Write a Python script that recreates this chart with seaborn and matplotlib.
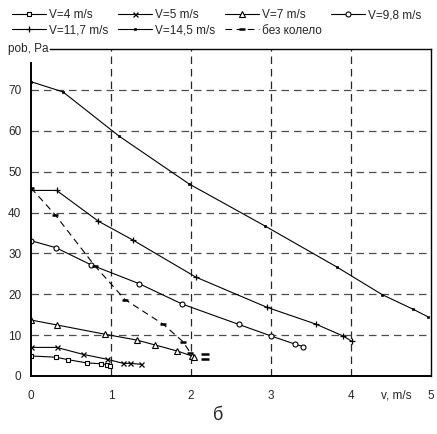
import matplotlib
matplotlib.use("Agg")
import matplotlib.pyplot as plt
import seaborn as sns
import pandas as pd

# ---- data ----
v4_x = [0.0, 0.31, 0.46, 0.70, 0.87, 0.95, 0.99]
v4_y = [4.9, 4.6, 4.0, 3.2, 3.0, 2.8, 2.35]

v5_x = [0.0, 0.32, 0.65, 0.95, 1.15, 1.24, 1.38]
v5_y = [7.0, 7.0, 5.3, 4.1, 3.1, 3.1, 2.85]

v7_x = [0.0, 0.32, 0.93, 1.32, 1.55, 1.83, 2.01, 2.04]
v7_y = [13.7, 12.5, 10.2, 8.8, 7.6, 6.1, 4.9, 4.7]

v98_x = [0.0, 0.31, 0.75, 1.35, 1.89, 2.60, 3.00, 3.30, 3.40]
v98_y = [33.1, 31.4, 27.2, 22.6, 17.6, 12.6, 9.8, 7.8, 7.2]

v117_x = [0.0, 0.32, 0.84, 1.27, 2.06, 2.95, 3.56, 3.90, 4.01]
v117_y = [45.4, 45.4, 37.9, 33.3, 24.2, 16.8, 12.7, 9.8, 8.5]

v145_x = [0.0, 0.40, 1.10, 1.975, 2.925, 3.82, 4.39, 4.78, 4.96]
v145_y = [72.0, 69.5, 58.7, 47.0, 36.7, 26.7, 19.9, 16.3, 14.5]

nowheel_x = [0.0, 0.30, 0.80, 1.175, 1.65, 1.90, 1.99]
nowheel_y = [46.0, 39.5, 26.9, 18.7, 12.7, 8.4, 5.7]
nowheel_extra_x = [2.18, 2.18]
nowheel_extra_y = [5.5, 4.1]

labels = ["V=4 m/s", "V=5 m/s", "V=7 m/s", "V=9,8 m/s",
          "V=11,7 m/s", "V=14,5 m/s", "без колело"]
x_ticks = [0, 1, 2, 3, 4, 5]
y_ticks = [0, 10, 20, 30, 40, 50, 60, 70]

sns.set_style("white")
plt.rcParams['font.family'] = ['Liberation Sans', 'DejaVu Sans']
FS = 8.5

fig = plt.figure(figsize=(4.37, 4.34), dpi=100)
ax = fig.add_axes([31/437, 1-376/434, 400/437, 327/434])

lw = 0.8
styles = [
    dict(marker='s', ms=3.2, mfc='white', mec='k', mew=0.8, ls='-'),
    dict(marker='x', ms=3.6, mec='k', mew=0.9, ls='-'),
    dict(marker='^', ms=3.8, mfc='white', mec='k', mew=0.8, ls='-'),
    dict(marker='o', ms=3.6, mfc='white', mec='k', mew=0.8, ls='-'),
    dict(marker='+', ms=4.8, mec='k', mew=0.9, ls='-'),
    dict(marker='s', ms=2.0, mfc='k', mec='k', mew=0.5, ls='-'),
    dict(marker='_', ms=5.0, mec='k', mew=1.8, ls=(0, (6, 4))),
]
series = [(v4_x, v4_y), (v5_x, v5_y), (v7_x, v7_y), (v98_x, v98_y),
          (v117_x, v117_y), (v145_x, v145_y), (nowheel_x, nowheel_y)]

for (xs, ys), lab, st in zip(series, labels, styles):
    df = pd.DataFrame({"v": xs, "p": ys})
    sns.lineplot(data=df, x="v", y="p", ax=ax, color='k', lw=lw,
                 estimator=None, sort=False, label=lab, legend=False, **st)

df_extra = pd.DataFrame({"v": nowheel_extra_x, "p": nowheel_extra_y})
sns.scatterplot(data=df_extra, x="v", y="p", ax=ax, marker='_', s=28,
                color='k', linewidth=1.8, legend=False)

ax.set_xlim(0, 5)
ax.set_ylim(0, 80)
ax.set_xticks(x_ticks)
ax.set_yticks(y_ticks)
ax.set_xticklabels(["0", "1", "2", "3", "4", "5"], fontsize=FS)
ax.set_yticklabels([str(t) for t in y_ticks], fontsize=FS)
ax.tick_params(axis='both', direction='inout', length=6, width=0.8, color='k')
ax.tick_params(axis='x', pad=7)
ax.tick_params(axis='y', pad=4)

for t in x_ticks[1:-1]:
    ax.axvline(t, color='0.15', lw=0.9, ls=(0, (6, 4)), zorder=0)
for t in y_ticks[1:]:
    ax.axhline(t, color='0.3', lw=0.9, ls=(0, (6, 4)), zorder=0)

for s in ['left', 'bottom']:
    ax.spines[s].set_color('k')
    ax.spines[s].set_linewidth(1.4)
for s in ['right', 'top']:
    ax.spines[s].set_color('k')
    ax.spines[s].set_linewidth(1.0)
ax.spines['left'].set_bounds(0, 76.6)
ax.spines['top'].set_bounds(0.24, 5)

ax.set_xlabel("v, m/s", fontsize=FS)
ax.xaxis.set_label_coords(0.914, -0.040)
ax.set_ylabel("")
ax.text(0.045, 1.0, "pob, Pa", transform=ax.transAxes, ha='right',
        va='center', fontsize=FS)

handles, labs = ax.get_legend_handles_labels()
order = [0, 4, 1, 5, 2, 6, 3]
fig.legend([handles[i] for i in order], [labs[i] for i in order],
           loc='upper left', bbox_to_anchor=(12/437, 1-9/434),
           ncol=4, frameon=False, fontsize=FS, handlelength=2.9,
           handletextpad=0.25, columnspacing=0.8, labelspacing=0.3,
           borderpad=0, borderaxespad=0)

fig.text(218/437, 1-416/434, "б", fontsize=13, ha='center', va='center')

fig.savefig("out.png", dpi=100)
